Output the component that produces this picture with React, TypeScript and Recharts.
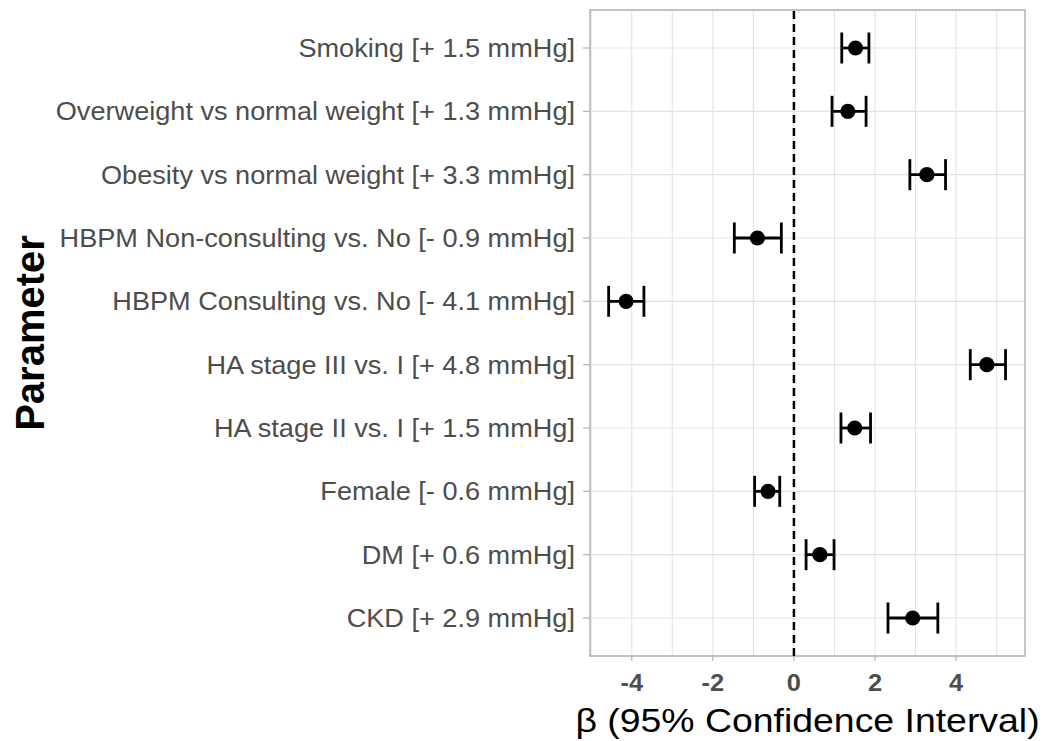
import React from 'react';
import {
  ScatterChart,
  Scatter,
  XAxis,
  YAxis,
  CartesianGrid,
  ReferenceLine,
  ReferenceArea,
  ErrorBar,
} from 'recharts';

const parameters = [
  'Smoking [+ 1.5 mmHg]',
  'Overweight vs normal weight [+ 1.3 mmHg]',
  'Obesity vs normal weight [+ 3.3 mmHg]',
  'HBPM Non-consulting vs. No [- 0.9 mmHg]',
  'HBPM Consulting vs. No [- 4.1 mmHg]',
  'HA stage III vs. I [+ 4.8 mmHg]',
  'HA stage II vs. I [+ 1.5 mmHg]',
  'Female [- 0.6 mmHg]',
  'DM [+ 0.6 mmHg]',
  'CKD [+ 2.9 mmHg]',
];
const estimates = [1.52, 1.33, 3.28, -0.9, -4.14, 4.76, 1.5, -0.64, 0.64, 2.93];
const lowerCI = [1.18, 0.94, 2.86, -1.47, -4.57, 4.35, 1.16, -0.97, 0.3, 2.32];
const upperCI = [1.85, 1.78, 3.74, -0.31, -3.7, 5.22, 1.89, -0.35, 0.99, 3.55];

const xGridTicks = [-5, -4, -3, -2, -1, 0, 1, 2, 3, 4, 5];
const xLabeledTicks = [-4, -2, 0, 2, 4];
const xDomain = [-5.03, 5.7];
const rowPositions = parameters.map((_, i) => i + 1);
const yDomain = [0.4, 10.6];

const xTitle = 'β (95% Confidence Interval)';
const yTitle = 'Parameter';

const rows = parameters.map((name, i) => ({
  name,
  pos: rowPositions[i],
  est: estimates[i],
  err: [estimates[i] - lowerCI[i], upperCI[i] - estimates[i]],
}));

const FONT = '"Liberation Sans", Arial, Helvetica, sans-serif';
const GREY_TEXT = '#4d4d4d';
const BORDER = '#b3b3b3';
const GRID = '#e3e3e3';

const YTick = (props: any) => {
  const { x, y, payload } = props;
  const label = parameters[payload.value - 1];
  return (
    <g transform={`translate(${x},${y})`}>
      <text
        transform="scale(1.085,1)"
        textAnchor="end"
        dy="0.36em"
        fontSize={25}
        fontFamily={FONT}
        fill={GREY_TEXT}
      >
        {label}
      </text>
    </g>
  );
};

const XTick = (props: any) => {
  const { x, y, payload } = props;
  if (!xLabeledTicks.includes(payload.value)) return <g />;
  return (
    <g>
      <line x1={x} x2={x} y1={y - 7} y2={y - 2} stroke={BORDER} strokeWidth={1.2} />
      <g transform={`translate(${x},${y + 28})`}>
        <text
          transform="scale(1.06,1)"
          textAnchor="middle"
          fontSize={24}
          fontWeight="bold"
          fontFamily={FONT}
          fill={GREY_TEXT}
        >
          {payload.value}
        </text>
      </g>
    </g>
  );
};

const XTitle = (props: any) => {
  const vb = props.viewBox || {};
  const cx = vb.x + vb.width / 2;
  return (
    <g transform={`translate(${cx},${732})`}>
      <text
        transform="scale(1.1,1)"
        textAnchor="middle"
        fontSize={34}
        fontFamily={FONT}
        fill="#000"
      >
        {xTitle}
      </text>
    </g>
  );
};

const YTitle = (props: any) => {
  const vb = props.viewBox || {};
  const x = (vb.x || 0) + 43.5;
  const y = vb.y + vb.height / 2;
  return (
    <text
      x={x}
      y={y}
      transform={`rotate(-90, ${x}, ${y})`}
      textAnchor="middle"
      fontSize={40}
      fontWeight="bold"
      fontFamily={FONT}
      fill="#000"
    >
      {yTitle}
    </text>
  );
};

const Dot = (props: any) => {
  const { cx, cy } = props;
  return <circle cx={cx} cy={cy} r={7.6} fill="#000" />;
};

export default function App() {
  return (
    <div style={{ position: 'absolute', left: 0, top: 0, width: 1045, height: 741, background: '#fff' }}>
      <ScatterChart
        width={1045}
        height={741}
        margin={{ top: 10, right: 20, bottom: 0, left: 0 }}
      >
        <CartesianGrid stroke={GRID} strokeWidth={1.1} />
        <XAxis
          type="number"
          dataKey="est"
          domain={xDomain}
          ticks={xGridTicks}
          interval={0}
          height={85}
          tickSize={5}
          tickMargin={2}
          tickLine={false}
          axisLine={false}
          tick={(p: any) => <XTick {...p} />}
          label={{ content: (p: any) => <XTitle {...p} /> }}
        />
        <YAxis
          type="number"
          dataKey="pos"
          domain={yDomain}
          reversed
          ticks={rowPositions}
          interval={0}
          width={590}
          tickSize={7}
          tickMargin={8}
          axisLine={false}
          tickLine={{ stroke: BORDER, strokeWidth: 1.2 }}
          tick={(p: any) => <YTick {...p} />}
          label={{ content: (p: any) => <YTitle {...p} /> }}
        />
        <ReferenceArea
          x1={xDomain[0]}
          x2={xDomain[1]}
          y1={yDomain[0]}
          y2={yDomain[1]}
          fill="none"
          fillOpacity={0}
          stroke={BORDER}
          strokeWidth={1.4}
          ifOverflow="visible"
        />
        <ReferenceLine x={0} stroke="#000" strokeWidth={2.5} strokeDasharray="8 5" />
        <Scatter data={rows} isAnimationActive={false} shape={(p: any) => <Dot {...p} />}>
          <ErrorBar
            dataKey="err"
            direction="x"
            width={15.5}
            stroke="#000"
            strokeWidth={2.8}
            isAnimationActive={false}
          />
        </Scatter>
      </ScatterChart>
    </div>
  );
}
